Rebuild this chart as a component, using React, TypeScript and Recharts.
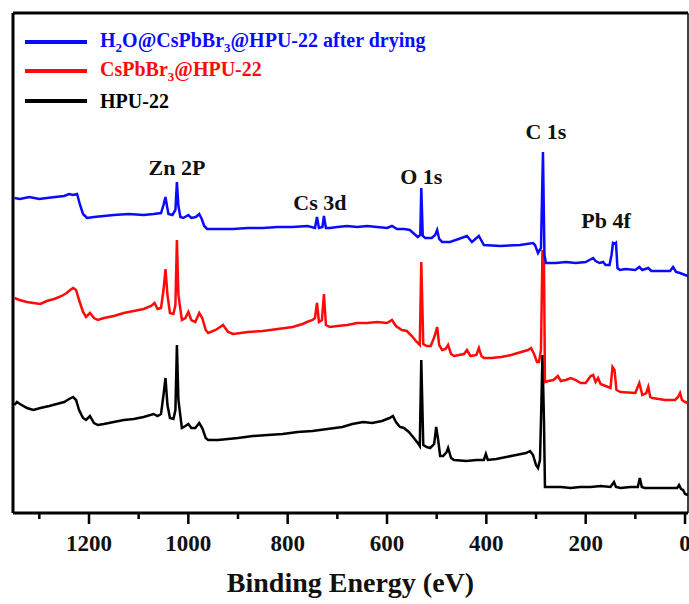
import React from "react";
import {
  LineChart,
  Line,
  XAxis,
  YAxis,
  ReferenceLine,
  ReferenceDot,
} from "recharts";

const FONT = '"Liberation Serif", "Times New Roman", serif';

// binding energy (eV), intensity (a.u., offset per trace)
const blueTrace: [number, number][] = [
  [1350, 315], [1339, 314], [1320, 316], [1300, 314], [1285, 315], [1268, 316],
  [1250, 317], [1240, 319], [1232, 318], [1224, 319], [1218, 308], [1212, 299],
  [1204, 295], [1190, 296], [1170, 297], [1150, 298], [1120, 299], [1090, 298],
  [1070, 299], [1055, 300], [1050, 308], [1046, 316], [1043, 307], [1040, 299],
  [1032, 298], [1026, 303], [1023, 331], [1020, 307], [1016, 296], [1010, 295],
  [1000, 298], [994, 295], [985, 296], [978, 299], [973, 294], [968, 287],
  [962, 284], [940, 284], [910, 284], [880, 285], [850, 285], [820, 286],
  [790, 286], [760, 287], [745, 285], [741, 296], [737, 285], [730, 286],
  [727, 297], [723, 285], [715, 285], [700, 286], [680, 287], [660, 286],
  [640, 287], [620, 286], [600, 285], [590, 287], [580, 284], [565, 284],
  [554, 283], [545, 279], [538, 276], [533, 278], [531, 325], [528, 277],
  [523, 275], [510, 275], [503, 278], [499, 283], [495, 274], [489, 271],
  [473, 271], [439, 277], [429, 271], [415, 277], [405, 268], [372, 267],
  [332, 268], [306, 270], [302, 268], [296, 260], [290, 265], [286, 361],
  [283, 258], [280, 250], [260, 250], [240, 251], [220, 250], [200, 251],
  [185, 255], [180, 252], [172, 250], [165, 251], [160, 248], [152, 248],
  [148, 258], [145, 270], [141, 269], [139, 270], [136, 245], [131, 243],
  [120, 244], [100, 243], [92, 246], [86, 243], [74, 245], [68, 242],
  [50, 242], [30, 242], [24, 246], [18, 241], [10, 240], [0, 238], [-6, 237],
];

const redTrace: [number, number][] = [
  [1350, 215], [1340, 213], [1325, 211], [1312, 210], [1298, 209], [1285, 212],
  [1270, 214], [1255, 217], [1245, 220], [1238, 223], [1232, 225], [1226, 223],
  [1220, 213], [1212, 201], [1206, 196], [1198, 200], [1190, 195], [1182, 193],
  [1170, 195], [1150, 197], [1130, 200], [1110, 202], [1090, 204], [1075, 207],
  [1068, 210], [1062, 204], [1055, 205], [1050, 223], [1046, 244], [1042, 218],
  [1037, 200], [1030, 199], [1026, 208], [1023, 273], [1020, 218], [1013, 193],
  [1006, 195], [1000, 201], [994, 193], [986, 191], [978, 200], [972, 195],
  [965, 183], [960, 180], [945, 183], [930, 188], [920, 181], [910, 179],
  [880, 181], [850, 182], [820, 184], [790, 186], [770, 189], [761, 191],
  [750, 193], [745, 195], [741, 210], [737, 191], [731, 193], [727, 219],
  [723, 188], [715, 186], [700, 187], [680, 188], [660, 190], [640, 190],
  [620, 191], [600, 190], [590, 193], [582, 187], [570, 183], [560, 182],
  [550, 177], [540, 171], [534, 168], [531, 251], [527, 169], [520, 167],
  [512, 167], [504, 177], [499, 186], [495, 168], [489, 163], [482, 164],
  [477, 168], [471, 159], [465, 157], [455, 158], [445, 159], [439, 163],
  [432, 157], [420, 158], [415, 165], [410, 157], [405, 155], [390, 155],
  [370, 156], [350, 158], [330, 161], [316, 163], [310, 165], [304, 159],
  [298, 151], [294, 151], [290, 163], [287, 263], [284, 253], [282, 131],
  [275, 132], [265, 133], [256, 137], [250, 132], [240, 133], [230, 135],
  [220, 133], [210, 130], [200, 130], [190, 137], [185, 138], [180, 131],
  [175, 135], [170, 129], [160, 127], [150, 125], [146, 146], [142, 143],
  [138, 123], [130, 121], [100, 120], [92, 130], [86, 118], [78, 120],
  [74, 126], [70, 116], [66, 115], [40, 113], [20, 113], [14, 116],
  [10, 120], [6, 113], [0, 111], [-6, 110],
];

const blackTrace: [number, number][] = [
  [1350, 108], [1345, 111], [1339, 109], [1325, 105], [1312, 103], [1298, 105],
  [1280, 107], [1265, 109], [1250, 111], [1240, 114], [1232, 116], [1226, 113],
  [1220, 103], [1212, 95], [1206, 93], [1198, 97], [1190, 90], [1182, 88],
  [1170, 89], [1150, 91], [1130, 93], [1110, 94], [1090, 96], [1070, 99],
  [1062, 97], [1055, 99], [1050, 118], [1046, 135], [1042, 108], [1037, 95],
  [1030, 94], [1026, 103], [1023, 168], [1020, 113], [1013, 85], [1006, 87],
  [1000, 89], [994, 85], [986, 85], [978, 90], [972, 85], [965, 75],
  [960, 73], [940, 73], [920, 74], [900, 75], [870, 77], [840, 78],
  [810, 79], [780, 81], [750, 82], [720, 84], [690, 86], [670, 89],
  [648, 91], [630, 90], [610, 92], [595, 95], [588, 97], [582, 91],
  [574, 86], [566, 85], [556, 81], [546, 75], [538, 70], [534, 67],
  [531, 153], [527, 68], [520, 66], [513, 65], [505, 69], [501, 86],
  [497, 73], [493, 57], [487, 57], [480, 61], [477, 65], [471, 55],
  [465, 53], [440, 52], [420, 53], [405, 53], [401, 59], [397, 53],
  [380, 54], [360, 56], [340, 58], [320, 60], [312, 62], [306, 58],
  [300, 48], [296, 45], [292, 53], [289, 113], [287, 158], [284, 93],
  [282, 26], [270, 26], [250, 26], [230, 25], [211, 26], [190, 26],
  [170, 27], [150, 26], [143, 31], [139, 26], [130, 25], [110, 26],
  [95, 26], [91, 35], [87, 26], [81, 25], [60, 25], [30, 25],
  [16, 25], [12, 28], [8, 24], [4, 23], [0, 19], [-6, 18],
];

const seriesNames = [
  "H2O@CsPbBr3@HPU-22 after drying",
  "CsPbBr3@HPU-22",
  "HPU-22",
];
const seriesColors = ["#0a0aff", "#ff0a0a", "#000000"];
const seriesTraces = [blueTrace, redTrace, blackTrace];

const peakNames = ["Zn 2P", "Cs 3d", "O 1s", "C 1s", "Pb 4f"];
const peakEnergies = [1023, 735, 531, 280, 159];
const peakHeights = [346, 311, 337, 382, 293];

const xTicks = [0, 100, 200, 300, 400, 500, 600, 700, 800, 900, 1000, 1100, 1200, 1300];

const toRows = (t: [number, number][]) => t.map(([e, v]) => ({ e, v }));

// subscript the 2 in H2O and the 3 in Br3
function Formula({ text }: { text: string }) {
  const parts = text.split(/(H2O|Br3)/);
  return (
    <>
      {parts.map((p, i) => {
        if (p === "H2O")
          return (
            <span key={i}>
              H<sub style={{ fontSize: "0.65em" }}>2</sub>O
            </span>
          );
        if (p === "Br3")
          return (
            <span key={i}>
              Br<sub style={{ fontSize: "0.65em" }}>3</sub>
            </span>
          );
        return <span key={i}>{p}</span>;
      })}
    </>
  );
}

function EnergyTick({ x, y, payload }: any) {
  const major = payload.value % 200 === 0;
  return (
    <g>
      <line
        x1={x}
        x2={x}
        y1={y}
        y2={y + (major ? 11 : 6)}
        stroke="#000"
        strokeWidth={2.5}
      />
      {major && (
        <text
          x={x}
          y={y + 30}
          textAnchor="middle"
          dominantBaseline="central"
          fontFamily={FONT}
          fontWeight="bold"
          fontSize={23}
          fill="#111"
        >
          {payload.value}
        </text>
      )}
    </g>
  );
}

export default function App() {
  const order = [2, 1, 0]; // black under red under blue
  return (
    <div
      style={{
        position: "absolute",
        left: 0,
        top: 0,
        width: 689,
        height: 604,
        background: "#fff",
      }}
    >
      <LineChart
        width={689}
        height={604}
        margin={{ top: 13, right: 1, left: 13, bottom: 0 }}
      >
        <XAxis
          type="number"
          dataKey="e"
          domain={[-6, 1353]}
          reversed
          ticks={xTicks}
          interval={0}
          tickLine={false}
          tickSize={0}
          tickMargin={0}
          tick={<EnergyTick />}
          height={91}
          axisLine={{ stroke: "#000", strokeWidth: 3 }}
          label={{
            value: "Binding Energy (eV)",
            position: "insideBottom",
            offset: 12,
            style: {
              fontFamily: FONT,
              fontWeight: "bold",
              fontSize: 28,
              fill: "#111",
            },
          }}
        />
        <YAxis type="number" domain={[0, 500]} hide />
        <ReferenceLine x={1353} stroke="#000" strokeWidth={3} />
        <ReferenceLine y={500} stroke="#000" strokeWidth={3} />
        <ReferenceLine x={-6} stroke="#000" strokeWidth={1.5} />
        {order.map((i) => (
          <Line
            key={seriesNames[i]}
            data={toRows(seriesTraces[i])}
            dataKey="v"
            name={seriesNames[i]}
            type="linear"
            dot={false}
            activeDot={false}
            stroke={seriesColors[i]}
            strokeWidth={2.5}
            isAnimationActive={false}
          />
        ))}
        {peakNames.map((n, i) => (
          <ReferenceDot
            key={n}
            x={peakEnergies[i]}
            y={peakHeights[i]}
            r={0}
            stroke="none"
            fill="none"
            label={{
              value: n,
              position: "center",
              fontFamily: FONT,
              fontWeight: "bold",
              fontSize: 22,
              fill: "#111",
            }}
          />
        ))}
      </LineChart>
      <div
        style={{
          position: "absolute",
          left: 25,
          top: 27,
          fontFamily: FONT,
          fontWeight: "bold",
          fontSize: 20,
        }}
      >
        {seriesNames.map((n, i) => (
          <div
            key={n}
            style={{
              display: "flex",
              alignItems: "center",
              height: 29.5,
              color: seriesColors[i],
            }}
          >
            <span
              style={{
                display: "inline-block",
                width: 62,
                height: 4,
                background: seriesColors[i],
                marginRight: 13,
              }}
            />
            <span style={{ lineHeight: 1 }}>
              <Formula text={n} />
            </span>
          </div>
        ))}
      </div>
    </div>
  );
}
